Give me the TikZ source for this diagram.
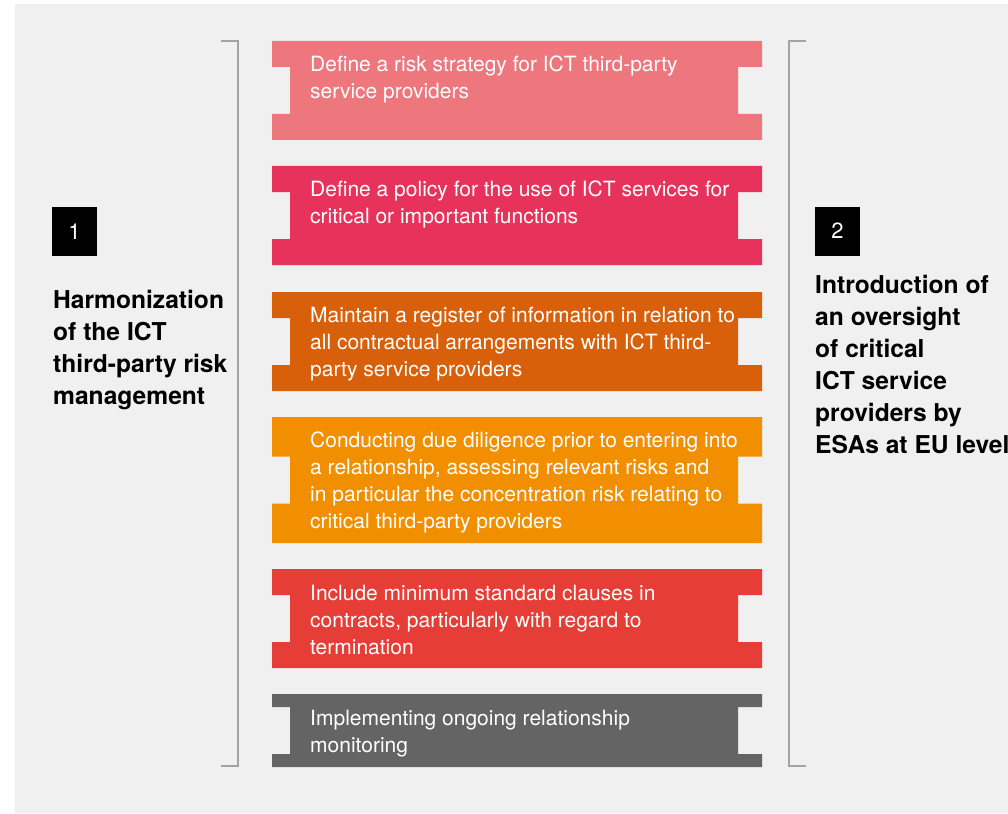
\documentclass[tikz,border=0pt]{standalone}
\usepackage{fontspec}
\setmainfont{TeX Gyre Heros}
\definecolor{bgc}{HTML}{F0F0F0}
\definecolor{brc}{HTML}{A3A3A3}
\definecolor{cA}{HTML}{EE767D}
\definecolor{cB}{HTML}{E7335B}
\definecolor{cC}{HTML}{D8600B}
\definecolor{cD}{HTML}{F18F00}
\definecolor{cE}{HTML}{E63E36}
\definecolor{cF}{HTML}{646464}
\newcommand{\ictbox}[3]{%
  \fill[#3] (272,#1) -- (762,#1) -- (762,{(#1+#2)/2-23.5}) -- (738,{(#1+#2)/2-23.5})
    -- (738,{(#1+#2)/2+23.5}) -- (762,{(#1+#2)/2+23.5}) -- (762,#2) -- (272,#2)
    -- (272,{(#1+#2)/2+23.5}) -- (290,{(#1+#2)/2+23.5}) -- (290,{(#1+#2)/2-23.5})
    -- (272,{(#1+#2)/2-23.5}) -- cycle;}
\tikzset{
  boxtext/.style={anchor=north west, inner sep=0pt, align=left, text=white,
    font=\fontsize{21}{27}\selectfont},
  sidetext/.style={anchor=north west, inner sep=0pt, align=left, text=black,
    font=\fontsize{24.6}{32}\selectfont\bfseries},
  numbox/.style={fill=black, text=white, minimum width=45pt, minimum height=49pt,
    inner sep=0pt, font=\fontsize{22}{25}\selectfont},
  bracket/.style={draw=brc, line width=1.6pt}
}
\newcommand{\bs}{\rule{0pt}{16pt}}
\newcommand{\bb}{\rule{0pt}{19pt}}
\begin{document}
\begin{tikzpicture}[x=1pt,y=-1pt]
\useasboundingbox (0,0) rectangle (1008,813);
\fill[white] (0,0) rectangle (1008,813);
\fill[bgc] (15,4) rectangle (1008,813);
% brackets
\draw[bracket] (221,41) -- (238,41) -- (238,766) -- (221,766);
\draw[bracket] (806,41) -- (789,41) -- (789,766) -- (806,766);
% boxes
\ictbox{41}{140}{cA}
\ictbox{166}{265}{cB}
\ictbox{292}{391}{cC}
\ictbox{417}{543}{cD}
\ictbox{569}{668}{cE}
\ictbox{694}{767}{cF}
\node[boxtext] (t1) at (310,55) {\bs Define a risk strategy for ICT third-party\\service providers};
\node[boxtext] (t2) at (310,180) {\bs Define a policy for the use of ICT services for\\critical or important functions};
\node[boxtext] (t3) at (310,306) {\bs Maintain a register of information in relation to\\all contractual arrangements with ICT third-\\party service providers};
\node[boxtext] (t4) at (310,431) {\bs Conducting due diligence prior to entering into\\a relationship, assessing relevant risks and\\in particular the concentration risk relating to\\critical third-party providers};
\node[boxtext] (t5) at (310,584) {\bs Include minimum standard clauses in\\contracts, particularly with regard to\\termination};
\node[boxtext] (t6) at (310,709) {\bs Implementing ongoing relationship\\monitoring};
% side labels
\node[numbox] (n1) at (74.5,231.5) {1};
\node[numbox] (n2) at (837.5,231.2) {2};
\node[sidetext] (s1) at (53,289) {\bb Harmonization\\of the ICT\\third-party risk\\management};
\node[sidetext] (s2) at (815,274) {\bb Introduction of\\an oversight\\of critical\\ICT service\\providers by\\ESAs at EU level};
\end{tikzpicture}
\end{document}
